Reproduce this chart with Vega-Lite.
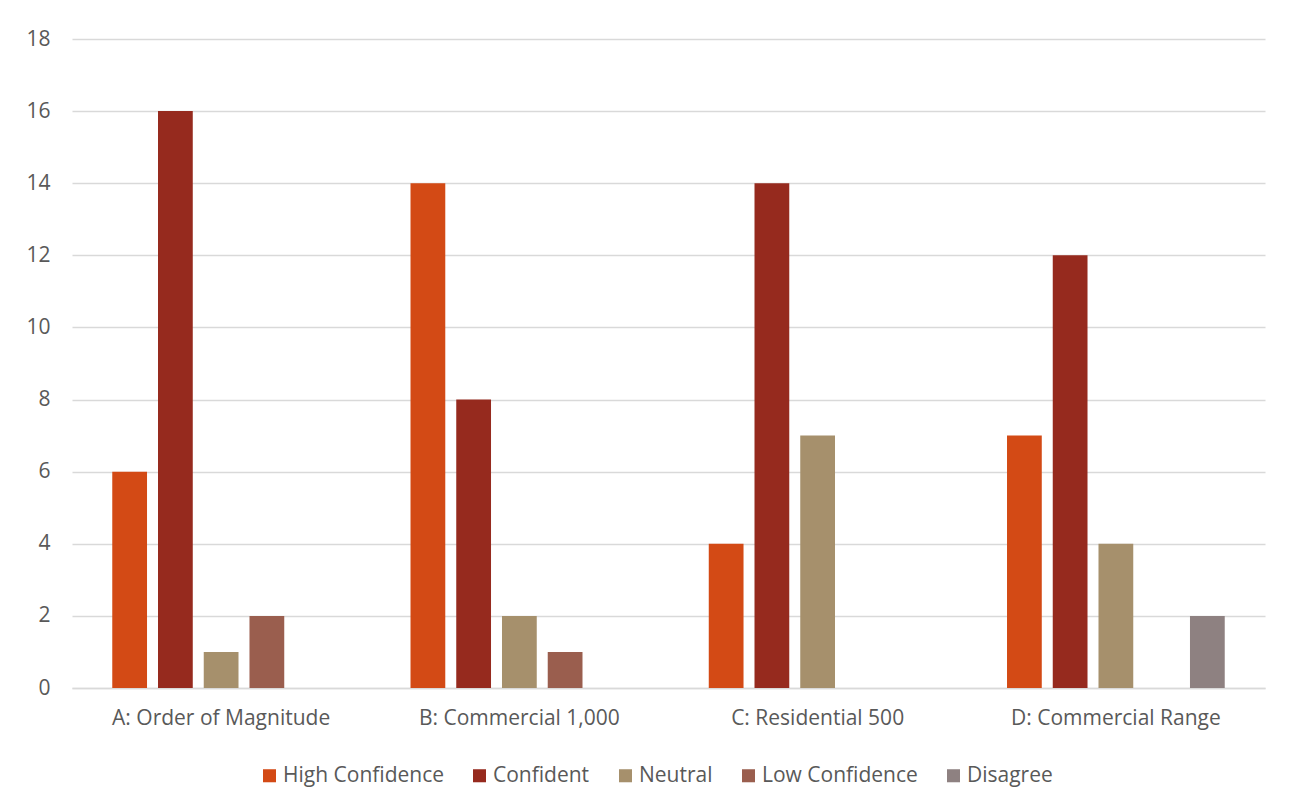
{
  "$schema": "https://vega.github.io/schema/vega-lite/v6.json",
  "autosize": {"type": "none"},
  "width": 1193,
  "height": 649,
  "padding": {"left": 72, "top": 39, "right": 30, "bottom": 119},
  "background": "white",
  "data": {
    "values": [
      {"group": "A: Order of Magnitude", "response": "High Confidence", "count": 6},
      {"group": "A: Order of Magnitude", "response": "Confident", "count": 16},
      {"group": "A: Order of Magnitude", "response": "Neutral", "count": 1},
      {"group": "A: Order of Magnitude", "response": "Low Confidence", "count": 2},
      {"group": "A: Order of Magnitude", "response": "Disagree", "count": 0},
      {"group": "B: Commercial 1,000", "response": "High Confidence", "count": 14},
      {"group": "B: Commercial 1,000", "response": "Confident", "count": 8},
      {"group": "B: Commercial 1,000", "response": "Neutral", "count": 2},
      {"group": "B: Commercial 1,000", "response": "Low Confidence", "count": 1},
      {"group": "B: Commercial 1,000", "response": "Disagree", "count": 0},
      {"group": "C: Residential 500", "response": "High Confidence", "count": 4},
      {"group": "C: Residential 500", "response": "Confident", "count": 14},
      {"group": "C: Residential 500", "response": "Neutral", "count": 7},
      {"group": "C: Residential 500", "response": "Low Confidence", "count": 0},
      {"group": "C: Residential 500", "response": "Disagree", "count": 0},
      {"group": "D: Commercial Range", "response": "High Confidence", "count": 7},
      {"group": "D: Commercial Range", "response": "Confident", "count": 12},
      {"group": "D: Commercial Range", "response": "Neutral", "count": 4},
      {"group": "D: Commercial Range", "response": "Low Confidence", "count": 0},
      {"group": "D: Commercial Range", "response": "Disagree", "count": 2}
    ]
  },
  "mark": {"type": "bar"},
  "encoding": {
    "x": {
      "field": "group",
      "type": "nominal",
      "sort": null,
      "scale": {"paddingInner": 0.27, "paddingOuter": 0.135},
      "axis": {
        "title": null,
        "labelAngle": 0,
        "labelLimit": 0,
        "ticks": false,
        "domain": true,
        "domainColor": "#D9D9D9",
        "domainWidth": 1.5,
        "labelPadding": 19,
        "labelFont": "Open Sans",
        "labelFontSize": 21,
        "labelColor": "#595959"
      }
    },
    "xOffset": {
      "field": "response",
      "type": "nominal",
      "sort": ["High Confidence", "Confident", "Neutral", "Low Confidence", "Disagree"],
      "scale": {"paddingInner": 0.24, "paddingOuter": 0}
    },
    "y": {
      "field": "count",
      "type": "quantitative",
      "scale": {"domain": [0, 18], "nice": false},
      "axis": {
        "title": null,
        "values": [0, 2, 4, 6, 8, 10, 12, 14, 16, 18],
        "ticks": false,
        "domain": false,
        "grid": true,
        "gridColor": "#D9D9D9",
        "gridWidth": 1.5,
        "labelPadding": 22,
        "labelFont": "Open Sans",
        "labelFontSize": 21,
        "labelColor": "#595959"
      }
    },
    "color": {
      "field": "response",
      "type": "nominal",
      "sort": ["High Confidence", "Confident", "Neutral", "Low Confidence", "Disagree"],
      "scale": {
        "domain": ["High Confidence", "Confident", "Neutral", "Low Confidence", "Disagree"],
        "range": ["#D34A15", "#962A1E", "#A6906C", "#9A5E4E", "#8E8181"]
      },
      "legend": {
        "title": null,
        "orient": "none",
        "direction": "horizontal",
        "columns": 5,
        "legendX": 187,
        "legendY": 726,
        "symbolType": "square",
        "symbolSize": 170,
        "symbolStrokeWidth": 0,
        "labelFont": "Open Sans",
        "labelFontSize": 21,
        "labelColor": "#595959",
        "labelOffset": 3,
        "labelLimit": 0,
        "columnPadding": 25
      }
    }
  },
  "config": {
    "view": {"stroke": null}
  }
}
